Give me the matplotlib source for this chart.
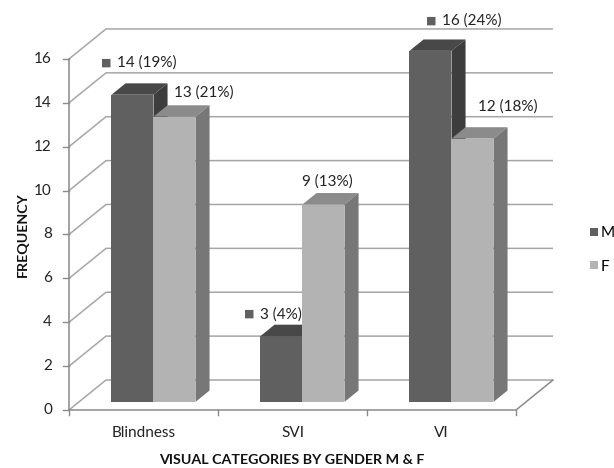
import numpy as np
import matplotlib.pyplot as plt
from matplotlib.patches import Polygon

plt.rcParams['font.family'] = ['Lato', 'DejaVu Sans']

# DONNEES
categories = ["Blindness", "SVI", "VI"]
male = [14, 3, 16]
female = [13, 9, 12]
male_labels = ["14 (19%)", "3 (4%)", "16 (24%)"]
female_labels = ["13 (21%)", "9 (13%)", "12 (18%)"]
yticks = [0, 2, 4, 6, 8, 10, 12, 14, 16]

# decalage des etiquettes (pixels) par rapport au haut de la face avant
male_off = [(-15.5, 32), (-21.5, 22), (12, 30)]
female_off = [(0, 24), (-21.5, 22.5), (5.5, 32)]

# echelle en pixels de la vue "3D"
px_x = 149.0     # pixels par categorie
px_y = 21.94     # pixels par unite de frequence
x0_px, y0_px = 69, 410
W, H = 614, 468
ddx, ddy = 37 / px_x, 30 / px_y      # profondeur totale du mur
f0, f1 = 0.27, 0.65                   # profondeur des barres
bw = 42 / px_x
fs = 11

m_cols = ("#606060", "#484848", "#3d3d3d")
f_cols = ("#b3b3b3", "#8b8b8b", "#777777")
grid_col = "#a6a6a6"
axis_col = "#8a8a8a"

fig = plt.figure(figsize=(W / 100, H / 100), dpi=100)
ax = fig.add_axes([0, 0, 1, 1])
ax.set_xlim(-0.5 - x0_px / px_x, -0.5 + (W - x0_px) / px_x)
ax.set_ylim((y0_px - H) / px_y, y0_px / px_y)
ax.axis("off")

xl, xr = -0.5, len(categories) - 0.5

# murs : lignes de grille
for v in yticks:
    ax.plot([xl, xl + ddx, xr + ddx], [v, v + ddy, v + ddy], color=grid_col, lw=1.1, zorder=1,
            solid_capstyle="butt")
# axe avant
ax.plot([xl, xl], [0, yticks[-1]], color=axis_col, lw=1.1, zorder=2)
ax.plot([xl, xr, xr + ddx], [0, 0, ddy], color=axis_col, lw=1.1, zorder=2)
for v in yticks:
    ax.plot([xl - 6 / px_x, xl], [v, v], color=axis_col, lw=1.0, zorder=2)
    ax.text(xl - 17 / px_x, v, str(v), ha="right", va="center", fontsize=fs, color="#222222")
for t in np.arange(xl, xr + 0.01, 1.0):
    ax.plot([t, t], [0, -5 / px_y], color=axis_col, lw=1.0, zorder=2)
for i, c in enumerate(categories):
    ax.text(i, -23 / px_y, c, ha="center", va="center", fontsize=fs, color="#222222")


def bar3d(x, v, cols, name):
    b = f0 * ddy
    ex, ey = (f1 - f0) * ddx, (f1 - f0) * ddy
    bars = ax.bar(x, v, bw, bottom=b, color=cols[0], linewidth=0, zorder=3, label=name)
    left, right = x - bw / 2, x + bw / 2
    top = [(left, v + b), (right, v + b), (right + ex, v + b + ey), (left + ex, v + b + ey)]
    side = [(right, b), (right, v + b), (right + ex, v + b + ey), (right + ex, b + ey)]
    ax.add_patch(Polygon(top, closed=True, facecolor=cols[1], lw=0, zorder=3))
    ax.add_patch(Polygon(side, closed=True, facecolor=cols[2], lw=0, zorder=3))
    return bars


handles = []
for i in range(len(categories)):
    xc = i + f0 * ddx
    hm = bar3d(xc - bw / 2, male[i], m_cols, "M")
    hf = bar3d(xc + bw / 2, female[i], f_cols, "F")
    if i == 0:
        handles = [hm, hf]

# etiquettes
for i in range(len(categories)):
    xc = i + f0 * ddx
    for val, lab, off, x, marker in [(male[i], male_labels[i], male_off[i], xc - bw / 2, True),
                                     (female[i], female_labels[i], female_off[i], xc + bw / 2, False)]:
        y = val + f0 * ddy
        ax.annotate(lab, xy=(x, y), xytext=off, textcoords="offset pixels",
                    ha="left", va="center", fontsize=fs, color="#222222", zorder=5)
        if marker:
            ax.annotate("\u25a0", xy=(x, y), xytext=(off[0] - 11, off[1]), textcoords="offset pixels",
                        ha="center", va="center", fontsize=8, color=m_cols[0],
                        family="DejaVu Sans", zorder=5)

ax.legend(handles=handles, loc="center left", bbox_to_anchor=(584 / W, 1 - 250 / H),
          frameon=False, fontsize=fs, handlelength=0.5, handleheight=0.5,
          handletextpad=0.2, labelspacing=1.25, borderaxespad=0)

fig.text(292 / W, 1 - 460 / H, "VISUAL CATEGORIES BY GENDER M & F", ha="center", va="center",
         fontsize=10.3, fontweight="bold", color="#111111")
fig.text(22.5 / W, 1 - 234.5 / H, "FREQUENCY", ha="center", va="center", rotation=90,
         fontsize=10.3, fontweight="bold", color="#111111")

fig.savefig("out.png", dpi=100)
